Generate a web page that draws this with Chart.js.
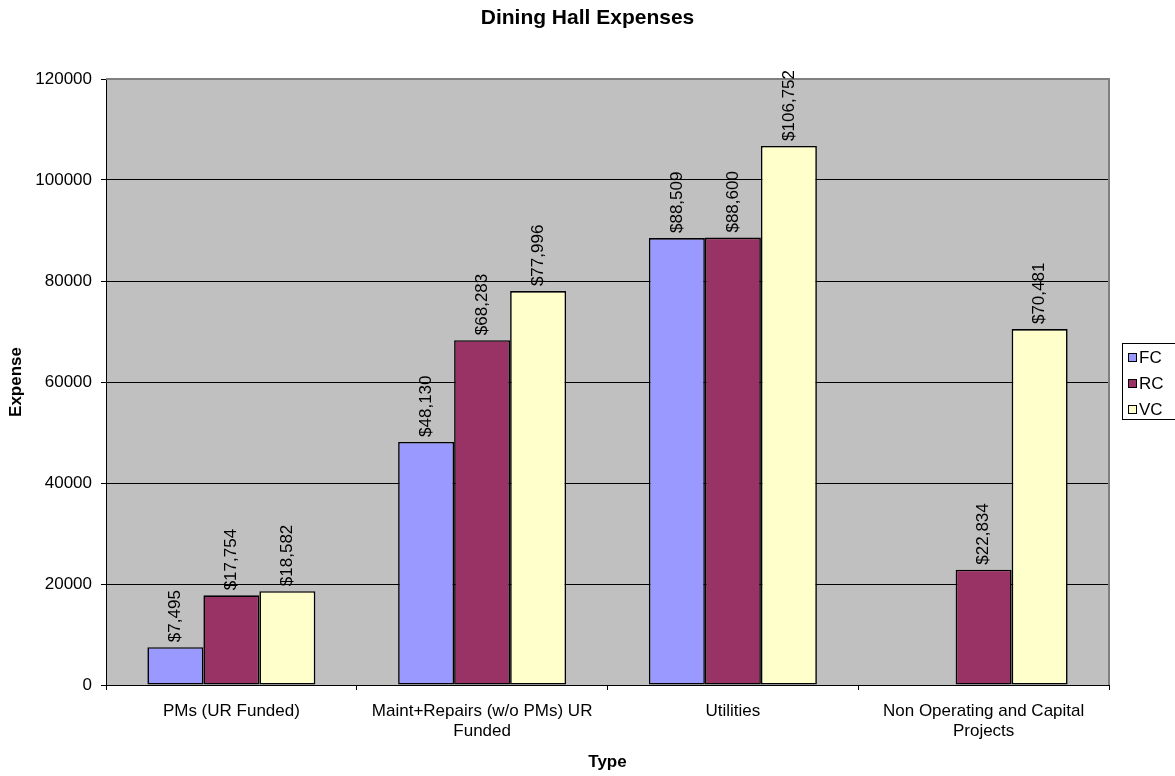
<!DOCTYPE html>
<html>
<head>
<meta charset="utf-8">
<title>Dining Hall Expenses</title>
<script src="https://cdn.jsdelivr.net/npm/chart.js@4.4.1/dist/chart.umd.min.js"></script>
<style>
    html, body { margin: 0; padding: 0; background: #fff; }
    #chart { display: block; }
</style>
</head>
<body>
<canvas id="chart" width="1175" height="776"></canvas>
<script>
// datos del grafico
const categories = [
    "PMs (UR Funded)",
    ["Maint+Repairs (w/o PMs) UR", "Funded"],
    "Utilities",
    ["Non Operating and Capital", "Projects"]
];
const fcValues = [7495, 48130, 88509, null];
const rcValues = [17754, 68283, 88600, 22834];
const vcValues = [18582, 77996, 106752, 70481];
const yTicks = [0, 20000, 40000, 60000, 80000, 100000, 120000];

const FONT = "Arial, 'Liberation Sans', sans-serif";

const colors = {
    fc: "#9999FF",
    rc: "#993366",
    vc: "#FFFFCC",
    plot: "#C0C0C0",
    frame: "#808080"
};

// fondo gris del area de trazado + borde superior/derecho
const plotBackground = {
    id: "plotBackground",
    beforeDraw(chart) {
        const { ctx, chartArea: a } = chart;
        ctx.save();
        ctx.fillStyle = colors.plot;
        ctx.fillRect(a.left, a.top, a.right - a.left, a.bottom - a.top);
        ctx.restore();
    },
    beforeDatasetsDraw(chart) {
        const { ctx, chartArea: a } = chart;
        ctx.save();
        ctx.strokeStyle = colors.frame;
        ctx.lineWidth = 2;
        ctx.beginPath();
        ctx.moveTo(a.left, a.top);
        ctx.lineTo(a.right, a.top);
        ctx.lineTo(a.right, a.bottom);
        ctx.stroke();
        ctx.restore();
    }
};

// etiquetas de valor verticales encima de cada barra
const valueLabels = {
    id: "valueLabels",
    afterDatasetsDraw(chart) {
        const { ctx } = chart;
        ctx.save();
        ctx.font = "17px " + FONT;
        ctx.fillStyle = "#000";
        ctx.textAlign = "left";
        ctx.textBaseline = "middle";
        chart.data.datasets.forEach((ds, i) => {
            chart.getDatasetMeta(i).data.forEach((bar, j) => {
                const v = ds.data[j];
                if (v === null || v === undefined) return;
                ctx.save();
                ctx.translate(bar.x, bar.y - 5);
                ctx.rotate(-Math.PI / 2);
                ctx.fillText("$" + v.toLocaleString("en-US"), 0, 0);
                ctx.restore();
            });
        });
        ctx.restore();
    }
};

// leyenda en caja a la derecha del grafico
const boxLegend = {
    id: "boxLegend",
    afterDraw(chart) {
        const { ctx } = chart;
        const x = 1122, y = 343, w = 60, h = 76, row = 26;
        ctx.save();
        ctx.fillStyle = "#fff";
        ctx.fillRect(x, y, w, h);
        ctx.strokeStyle = "#000";
        ctx.lineWidth = 1;
        ctx.strokeRect(x + 0.5, y + 0.5, w, h);
        ctx.font = "17px " + FONT;
        ctx.textBaseline = "middle";
        ctx.textAlign = "left";
        chart.data.datasets.forEach((ds, i) => {
            const cy = y + 14 + i * row;
            ctx.fillStyle = ds.backgroundColor;
            ctx.fillRect(x + 6, cy - 4, 8, 8);
            ctx.strokeStyle = "#000";
            ctx.strokeRect(x + 6.5, cy - 3.5, 8, 8);
            ctx.fillStyle = "#000";
            ctx.fillText(ds.label, x + 17, cy + 1);
        });
        ctx.restore();
    }
};

function barSet(label, data, color) {
    return {
        label: label,
        data: data,
        backgroundColor: color,
        borderColor: "#000",
        borderWidth: 1.6,
        borderSkipped: false,
        categoryPercentage: 0.67,
        barPercentage: 1.0
    };
}

Chart.defaults.font.family = FONT;
Chart.defaults.color = "#000";

new Chart(document.getElementById("chart"), {
    type: "bar",
    data: {
        labels: categories,
        datasets: [
            barSet("FC", fcValues, colors.fc),
            barSet("RC", rcValues, colors.rc),
            barSet("VC", vcValues, colors.vc)
        ]
    },
    options: {
        responsive: false,
        animation: false,
        devicePixelRatio: 1,
        layout: { padding: 0 },
        plugins: {
            legend: { display: false },
            tooltip: { enabled: false },
            title: {
                display: true,
                text: "Dining Hall Expenses",
                color: "#000",
                font: { size: 21, weight: "bold", family: FONT },
                padding: { top: 6, bottom: 47.8 }
            }
        },
        scales: {
            x: {
                grid: {
                    color: "#000",
                    drawOnChartArea: false,
                    drawTicks: true,
                    tickLength: 5,
                    offset: true
                },
                border: { color: "#000", width: 1 },
                ticks: {
                    autoSkip: false,
                    maxRotation: 0,
                    padding: 11,
                    font: { size: 17 },
                    color: "#000"
                },
                title: {
                    display: true,
                    text: "Type",
                    font: { size: 17, weight: "bold" },
                    padding: { top: 0, bottom: 3 }
                },
                afterFit(scale) { scale.height = 91; }
            },
            y: {
                min: yTicks[0],
                max: yTicks[yTicks.length - 1],
                grid: {
                    color: "#000",
                    tickLength: 5
                },
                border: { color: "#000", width: 1 },
                afterBuildTicks(scale) {
                    scale.ticks = yTicks.map(v => ({ value: v }));
                },
                ticks: {
                    padding: 9,
                    font: { size: 17 },
                    color: "#000",
                    callback: v => String(v)
                },
                title: {
                    display: true,
                    text: "Expense",
                    font: { size: 17, weight: "bold" },
                    padding: { top: 6, bottom: 0 }
                },
                afterFit(scale) { scale.width = 106; }
            },
            // eje vacio a la derecha: reserva el hueco de la leyenda
            side: {
                type: "linear",
                position: "right",
                grid: { display: false },
                border: { display: false },
                ticks: { display: false },
                afterFit(scale) { scale.width = 66; }
            }
        }
    },
    plugins: [plotBackground, valueLabels, boxLegend]
});
</script>
</body>
</html>
